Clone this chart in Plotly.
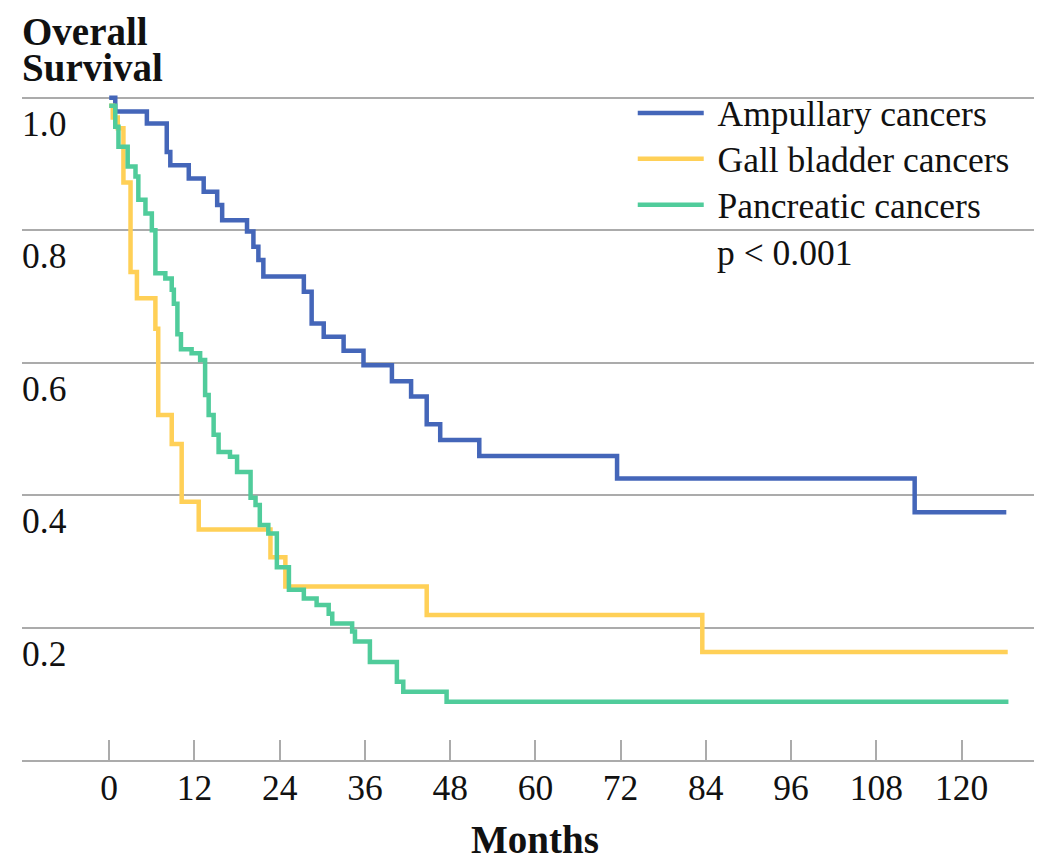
import plotly.graph_objects as go

# ---- data ----
series_names = ["Ampullary cancers", "Gall bladder cancers", "Pancreatic cancers"]
series_colors = ["#4466B9", "#FFD057", "#50CC9B"]

ampullary_months = [0, 0.85, 5.3, 8.1, 8.6, 11.2, 13.3, 15.2, 15.9, 19.4, 20.3, 21.0, 21.7,
                    27.4, 28.5, 30.2, 33.0, 35.8, 39.8, 42.5, 44.7, 46.6, 52.1, 71.5, 113.4, 126.3]
ampullary_surv = [1.0, 0.979, 0.961, 0.918, 0.898, 0.878, 0.858, 0.838, 0.815, 0.798, 0.775, 0.755, 0.730,
                  0.707, 0.659, 0.639, 0.618, 0.596, 0.572, 0.549, 0.507, 0.483, 0.459, 0.425, 0.374, 0.374]

gallbladder_months = [0, 0.5, 1.2, 2.0, 3.0, 3.9, 6.5, 6.9, 8.8, 10.2, 12.6, 22.7, 24.8, 44.7, 83.5, 126.5]
gallbladder_surv = [0.988, 0.97, 0.954, 0.872, 0.737, 0.697, 0.651, 0.521, 0.477, 0.39, 0.348,
                    0.306, 0.262, 0.219, 0.163, 0.163]

pancreatic_months = [0, 0.85, 1.3, 2.6, 3.7, 4.1, 5.1, 6.0, 6.5, 7.9, 8.8, 9.1, 9.6, 10.1, 11.6, 12.8,
                     13.5, 14.0, 14.7, 15.4, 17.0, 18.0, 19.9, 20.6, 21.2, 22.4, 23.6, 25.3, 27.4,
                     29.2, 30.9, 31.4, 34.2, 34.6, 36.7, 40.5, 41.4, 47.5, 126.6]
pancreatic_surv = [0.988, 0.956, 0.926, 0.896, 0.881, 0.846, 0.825, 0.80, 0.735, 0.727, 0.71, 0.689,
                   0.643, 0.62, 0.614, 0.604, 0.551, 0.521, 0.491, 0.465, 0.458, 0.435, 0.396, 0.385,
                   0.355, 0.342, 0.291, 0.257, 0.244, 0.234, 0.221, 0.206, 0.194, 0.179, 0.148,
                   0.118, 0.103, 0.088, 0.088]

x_ticks = [0, 12, 24, 36, 48, 60, 72, 84, 96, 108, 120]
y_ticks = [0.2, 0.4, 0.6, 0.8, 1.0]
y_tick_labels = ["0.2", "0.4", "0.6", "0.8", "1.0"]
p_value_text = "p < 0.001"

FONT = "Liberation Serif, Times New Roman, serif"
GRID = "#ABABAB"
TXT = "#111111"
REG = 35.5
BOLD = 39

fig = go.Figure()
for name, color, xs, ys in zip(series_names, series_colors,
                                [ampullary_months, gallbladder_months, pancreatic_months],
                                [ampullary_surv, gallbladder_surv, pancreatic_surv]):
    label = "<span style='font-size:%gpx'>\u00a0%s</span>" % (REG, name)
    fig.add_trace(go.Scatter(x=xs, y=ys, name=label, mode="lines",
                             line=dict(color=color, width=4.5, shape="hv")))

annotations = []
for v, lab in zip(y_ticks, y_tick_labels):
    annotations.append(dict(x=0, xref="paper", y=v, yref="y", text=lab, showarrow=False,
                            xanchor="left", yanchor="top", yshift=-4, xshift=-2,
                            font=dict(family=FONT, size=REG, color=TXT)))
annotations.append(dict(x=0, xref="paper", y=1.0, yref="paper", text="<b>Overall</b>",
                        showarrow=False, xanchor="left", yanchor="bottom", yshift=36, xshift=-2,
                        font=dict(family=FONT, size=BOLD, color=TXT)))
annotations.append(dict(x=0, xref="paper", y=1.0, yref="paper", text="<b>Survival</b>",
                        showarrow=False, xanchor="left", yanchor="bottom", yshift=0, xshift=-2,
                        font=dict(family=FONT, size=BOLD, color=TXT)))
annotations.append(dict(x=60, xref="x", y=0, yref="paper", text="<b>Months</b>",
                        showarrow=False, xanchor="center", yanchor="top", yshift=-56,
                        font=dict(family=FONT, size=BOLD, color=TXT)))
annotations.append(dict(x=0.6848, xref="paper", y=0.7578, yref="paper", text=p_value_text,
                        showarrow=False, xanchor="left", yanchor="middle",
                        font=dict(family=FONT, size=REG, color=TXT)))

fig.update_layout(
    width=1042, height=858,
    margin=dict(l=14, r=16, t=83, b=106),
    plot_bgcolor="white", paper_bgcolor="white",
    font=dict(family=FONT, size=REG, color=TXT),
    showlegend=True,
    legend=dict(x=0.6035, y=1.009, xanchor="left", yanchor="top", bgcolor="rgba(0,0,0,0)",
                font=dict(family=FONT, size=33, color=TXT), itemwidth=66, tracegroupgap=0),
    xaxis=dict(range=[-12.28, 130.2], tickvals=x_ticks, ticks="inside", ticklen=20,
               tickwidth=2, tickcolor=GRID, showline=True, linecolor=GRID, linewidth=2,
               showgrid=False, zeroline=False, ticklabelstandoff=-5,
               tickfont=dict(family=FONT, size=REG, color=TXT)),
    yaxis=dict(range=[0, 1.0101], tickvals=y_ticks, showticklabels=False, showgrid=True,
               gridcolor=GRID, gridwidth=2, zeroline=False, showline=False, ticks=""),
    annotations=annotations,
)
fig.write_html("out.html")
